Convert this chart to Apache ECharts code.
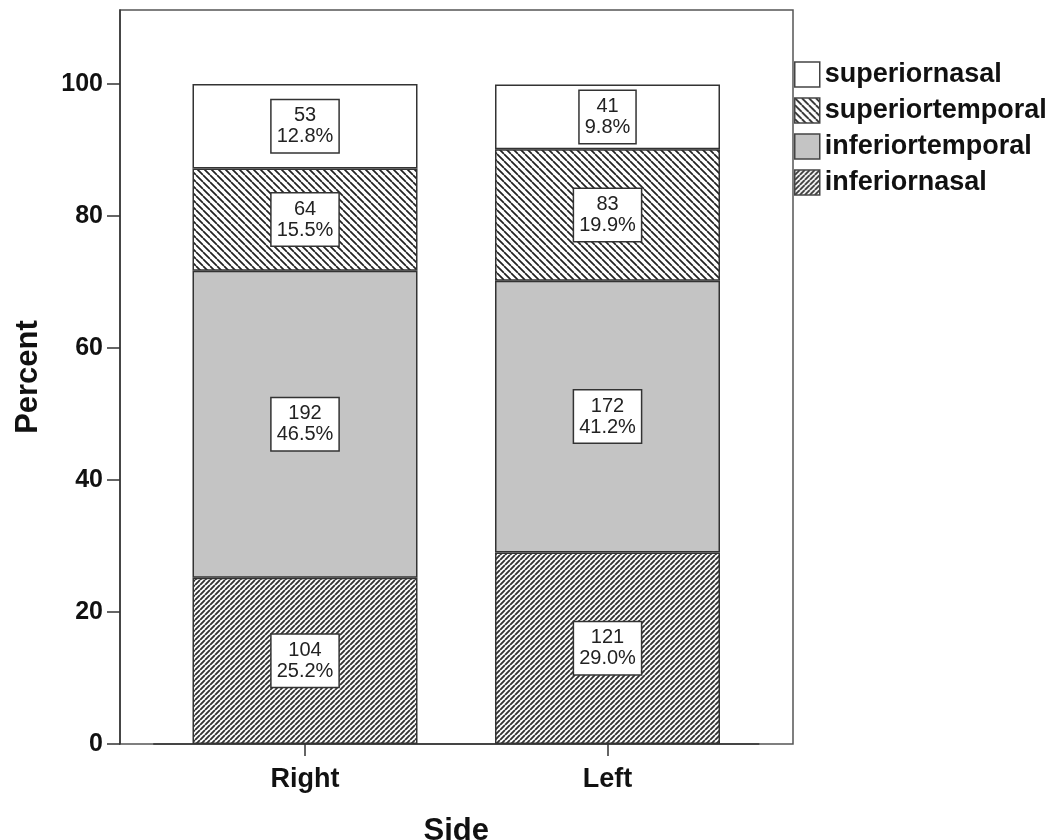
<!DOCTYPE html>
<html><head><meta charset="utf-8">
<script src="https://cdn.jsdelivr.net/npm/echarts@6/dist/echarts.min.js"></script>
<style>html,body{margin:0;padding:0;background:#fff}#c{width:1053px;height:840px}</style>
</head><body><div id="c"></div>
<script>
const categories = ['Right', 'Left'];
const countsInferiorNasal = [104, 121];
const countsInferiorTemporal = [192, 172];
const countsSuperiorTemporal = [64, 83];
const countsSuperiorNasal = [53, 41];
const pctInferiorNasal = [25.2, 29.0];
const pctInferiorTemporal = [46.5, 41.2];
const pctSuperiorTemporal = [15.5, 19.9];
const pctSuperiorNasal = [12.8, 9.8];
const yTicks = [0, 20, 40, 60, 80, 100];
const legendOrder = ['superiornasal', 'superiortemporal', 'inferiortemporal', 'inferiornasal'];

function hatch(size, lw, dir, color, bg) {
  const c = document.createElement('canvas');
  c.width = size; c.height = size;
  const g = c.getContext('2d');
  g.fillStyle = bg; g.fillRect(0, 0, size, size);
  g.strokeStyle = color; g.lineWidth = lw; g.beginPath();
  for (let k = -1; k <= 1; k++) {
    if (dir === 'back') { g.moveTo(k * size, 0); g.lineTo(k * size + size, size); }
    else { g.moveTo(k * size, size); g.lineTo(k * size + size, 0); }
  }
  g.stroke();
  return { image: c, repeat: 'repeat' };
}

const fills = {
  inferiornasal: hatch(5, 1.9, 'fwd', '#333', '#fff'),
  inferiortemporal: '#c4c4c4',
  superiortemporal: hatch(7, 1.7, 'back', '#222', '#fff'),
  superiornasal: '#ffffff'
};

const seriesDefs = [
  { name: 'inferiornasal', pct: pctInferiorNasal, cnt: countsInferiorNasal },
  { name: 'inferiortemporal', pct: pctInferiorTemporal, cnt: countsInferiorTemporal },
  { name: 'superiortemporal', pct: pctSuperiorTemporal, cnt: countsSuperiorTemporal },
  { name: 'superiornasal', pct: pctSuperiorNasal, cnt: countsSuperiorNasal }
];

const FONT = 'Liberation Sans, Arial, sans-serif';

const chart = echarts.init(document.getElementById('c'), null, { renderer: 'canvas' });
chart.setOption({
  animation: false,
  backgroundColor: '#fff',
  textStyle: { fontFamily: FONT },
  grid: [
    { left: 153.75, right: 294.25, top: 10, bottom: 96, containLabel: false, outerBoundsMode: 'none' },
    { left: 120, right: 260, top: 10, bottom: 96, show: true, borderColor: '#555', borderWidth: 1.5, backgroundColor: 'transparent', z: 0, outerBoundsMode: 'none' }
  ],
  legend: {
    orient: 'vertical', left: 794, top: 61, padding: 0,
    data: legendOrder,
    itemWidth: 25, itemHeight: 25, itemGap: 9,
    icon: 'rect',
    itemStyle: { borderColor: '#444', borderWidth: 1.5 },
    textStyle: { fontSize: 27, fontWeight: 'bold', color: '#111', fontFamily: FONT, lineHeight: 25 }
  },
  xAxis: [
    {
      type: 'category', data: categories, gridIndex: 0,
      axisLine: { show: true, lineStyle: { color: '#333', width: 1.5 } },
      axisTick: { show: true, alignWithLabel: true, length: 12, lineStyle: { color: '#333', width: 1.5 } },
      axisLabel: { fontSize: 27, fontWeight: 'bold', color: '#111', margin: 22, fontFamily: FONT },
      name: 'Side', nameLocation: 'middle', nameGap: 72,
      nameTextStyle: { fontSize: 31, fontWeight: 'bold', color: '#111', fontFamily: FONT }
    },
    { type: 'value', gridIndex: 1, show: false }
  ],
  yAxis: [
    {
      type: 'value', gridIndex: 0, min: 0, max: 111.2, interval: 20, offset: 33.75,
      axisLine: { show: true, lineStyle: { color: '#333', width: 1.5 } },
      axisTick: { show: true, length: 13, customValues: yTicks, lineStyle: { color: '#333', width: 1.5 } },
      axisLabel: { fontSize: 25, fontWeight: 'bold', color: '#111', margin: 17, customValues: yTicks, fontFamily: FONT },
      splitLine: { show: false },
      name: 'Percent', nameLocation: 'middle', nameGap: 76, nameRotate: 90,
      nameTextStyle: { fontSize: 31, fontWeight: 'bold', color: '#111', fontFamily: FONT }
    },
    { type: 'value', gridIndex: 1, show: false }
  ],
  series: seriesDefs.map(d => ({
    name: d.name, type: 'bar', stack: 'total', xAxisIndex: 0, yAxisIndex: 0,
    barWidth: 225,
    data: d.pct,
    itemStyle: { color: fills[d.name], borderColor: '#333', borderWidth: 1.5 },
    label: {
      show: true, position: 'inside',
      formatter: p => d.cnt[p.dataIndex] + '\n' + d.pct[p.dataIndex].toFixed(1) + '%',
      fontSize: 20, lineHeight: 21, color: '#222', fontFamily: FONT,
      backgroundColor: '#fff', borderColor: '#333', borderWidth: 1.5,
      padding: [5, 5, 5, 5], align: 'center'
    },
    emphasis: { disabled: true }
  }))
});
</script>
</body></html>
